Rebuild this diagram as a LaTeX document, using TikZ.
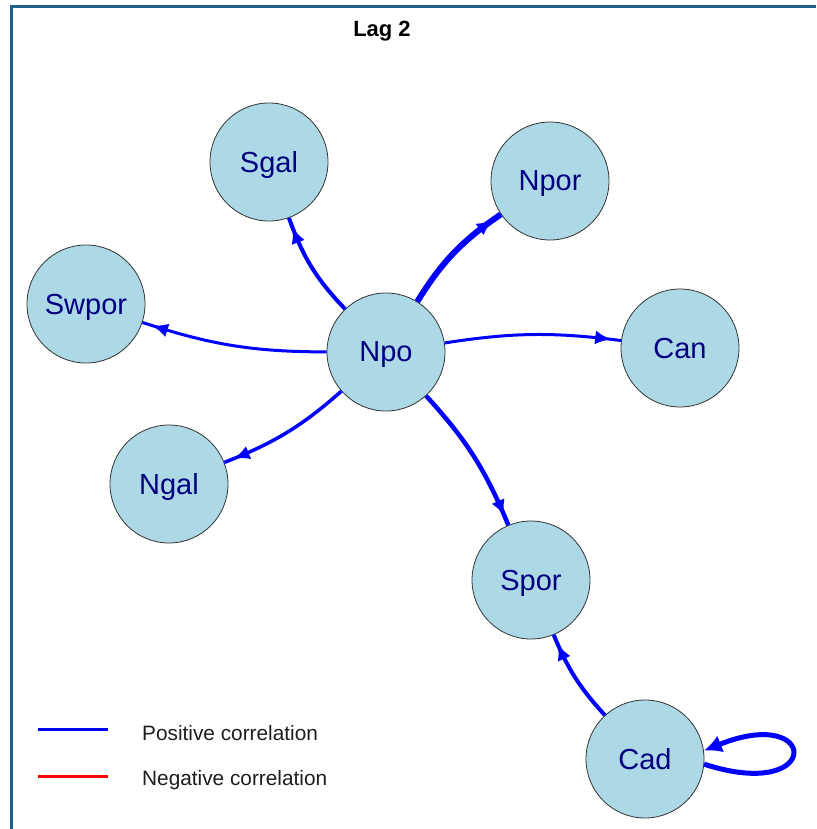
\documentclass[tikz,border=0pt]{standalone}
\usepackage{fontspec}
\setmainfont{Liberation Sans}
\usetikzlibrary{arrows.meta,decorations.markings}
\definecolor{frameteal}{RGB}{31,98,133}
\definecolor{nodefill}{RGB}{173,216,230}
\definecolor{labelnavy}{RGB}{0,0,128}
\definecolor{legendtext}{RGB}{30,30,30}
\begin{document}
\begin{tikzpicture}[x=1pt,y=1pt,
  var/.style={circle, minimum size=118pt, inner sep=0pt, fill=nodefill,
    draw=black!80, line width=0.8pt, text=labelnavy, text depth=0pt,
    font=\fontsize{29}{32}\selectfont},
  link/.style={draw=blue, line width=#1, postaction={decorate},
    decoration={markings, mark=at position -10pt with
      {\arrow{Latex[length=16pt,width=14pt]}}}},
  legendlabel/.style={anchor=base west, inner sep=0pt, text=legendtext,
    font=\fontsize{20.8}{24}\selectfont},
  legendline/.style={line width=3pt}
]
% canvas
\useasboundingbox (0,0) rectangle (816,-829);
\fill[white] (0,0) rectangle (816,-829);
\draw[frameteal, line width=3pt, line join=miter] (11.5,-829) -- (11.5,-7) -- (816,-7);

% title
\node[anchor=base, font=\fontsize{22}{26}\selectfont\bfseries] (title) at (382,-37) {Lag 2};

% variables
\node[var] (Sgal)  at (269,-162) {Sgal};
\node[var] (Npor)  at (550,-181) {Npor};
\node[var] (Swpor) at (86,-304)  {Swpor};
\node[var] (Npo)   at (386,-352) {Npo};
\node[var] (Can)   at (680,-348) {Can};
\node[var] (Ngal)  at (169,-484) {Ngal};
\node[var] (Spor)  at (531,-580) {Spor};
\node[var] (Cad)   at (645,-759) {Cad};

% lag-2 effects
\path[link=4pt]   (Npo) to[bend left=12] (Sgal);
\path[link=6pt]   (Npo) to[bend left=12] (Npor);
\path[link=3pt]   (Npo) to[bend left=9] (Swpor);
\path[link=3pt]   (Npo) to[bend left=8] (Can);
\path[link=3.5pt] (Npo) to[bend left=10] (Ngal);
\path[link=4.5pt] (Npo) to[bend left=10] (Spor);
\path[link=4pt]   (Cad) to[bend left=10] (Spor);
\draw[blue, line width=5pt, -{Latex[length=18pt,width=18pt]}]
  (Cad.-5) .. controls +(-18:125) and +(22:125) .. (Cad.8);

% legend
\coordinate (posA) at (38,-729);
\coordinate (posB) at (108,-729);
\coordinate (negA) at (38,-776);
\coordinate (negB) at (108,-776);
\draw[legendline, blue] (posA) -- (posB);
\draw[legendline, red] (negA) -- (negB);
\node[legendlabel] (poslabel) at (142,-740) {Positive correlation};
\node[legendlabel] (neglabel) at (142,-785) {Negative correlation};
\end{tikzpicture}
\end{document}
